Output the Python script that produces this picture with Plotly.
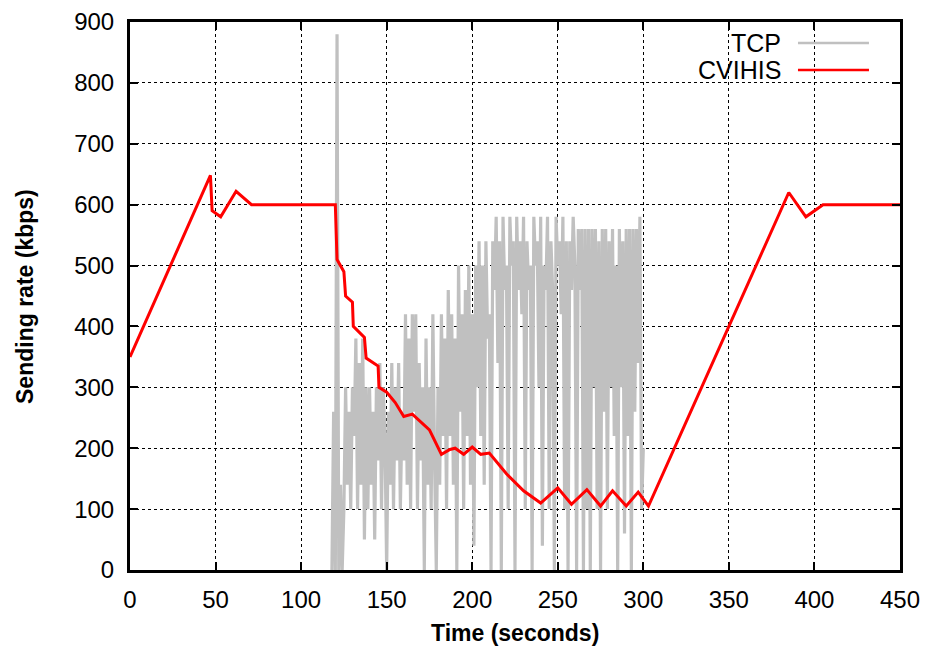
import plotly.graph_objects as go

# CVIHIS sending rate (time s, kbps)
cv_t = [0, 47, 48, 53, 62, 71, 120, 121, 125, 126, 130, 130.5, 137, 138, 145, 145.5,
        150, 155, 160, 165, 175, 182, 187, 190, 195, 200, 205, 210, 220, 230, 240,
        250, 258, 267, 275, 282, 290, 297, 303, 385, 395, 405, 450]
cv_v = [350, 648, 590, 580, 622, 600, 600, 510, 490, 450, 440, 400, 382, 348, 335, 300,
        292, 275, 252, 256, 230, 190, 198, 200, 190, 202, 190, 192, 158, 130, 110,
        135, 108, 132, 105, 130, 105, 128, 105, 620, 580, 600, 600]

# TCP sending rate (time s, kbps)
tcp_t = [118, 119, 120, 121, 122, 123, 124, 125, 126, 127, 128, 129, 130, 131, 132, 133,
         134, 135, 136, 137, 138, 139, 140, 141, 142, 143, 144, 145, 146, 147, 148, 149,
         150, 151, 152, 153, 154, 155, 156, 157, 158, 159, 160, 161, 162, 163, 164, 165,
         166, 167, 168, 169, 170, 171, 172, 173, 174, 175, 176, 177, 178, 179, 180, 181,
         182, 183, 184, 185, 186, 187, 188, 189, 190, 191, 192, 193, 194, 195, 196, 197,
         198, 199, 200, 201, 202, 203, 204, 205, 206, 207, 208, 209, 210, 211, 212, 213,
         214, 215, 216, 217, 218, 219, 220, 221, 222, 223, 224, 225, 226, 227, 228, 229,
         230, 231, 232, 233, 234, 235, 236, 237, 238, 239, 240, 241, 242, 243, 244, 245,
         246, 247, 248, 249, 250, 251, 252, 253, 254, 255, 256, 257, 258, 259, 260, 261,
         262, 263, 264, 265, 266, 267, 268, 269, 270, 271, 272, 273, 274, 275, 276, 277,
         278, 279, 280, 281, 282, 283, 284, 285, 286, 287, 288, 289, 290, 291, 292, 293,
         294, 295, 296, 297, 298, 299, 300]
tcp_v = [0, 260, 0, 880, 0, 140, 0, 100, 300, 140, 260, 100, 300, 220, 380, 100,
         340, 140, 380, 50, 300, 100, 300, 140, 260, 50, 300, 180, 340, 100, 300, 220,
         0, 260, 140, 340, 100, 300, 180, 340, 100, 260, 180, 420, 140, 380, 100, 420,
         260, 420, 100, 340, 180, 300, 0, 380, 140, 300, 100, 420, 180, 0, 300, 140,
         420, 220, 380, 100, 460, 220, 420, 140, 380, 0, 500, 260, 420, 100, 460, 220,
         500, 140, 420, 40, 500, 300, 540, 220, 500, 140, 540, 380, 420, 0, 540, 460,
         580, 340, 540, 0, 580, 460, 500, 100, 580, 500, 540, 0, 580, 460, 540, 420,
         580, 100, 540, 460, 500, 0, 580, 500, 540, 300, 580, 40, 500, 460, 580, 100,
         540, 460, 0, 580, 500, 540, 420, 580, 100, 540, 0, 540, 460, 580, 500, 0,
         560, 460, 560, 0, 560, 100, 560, 0, 560, 300, 560, 100, 540, 0, 560, 260,
         560, 100, 540, 300, 560, 220, 500, 0, 560, 300, 540, 60, 560, 220, 560, 0,
         560, 260, 560, 340, 580, 100, 200]

x_ticks = [0, 50, 100, 150, 200, 250, 300, 350, 400, 450]
y_ticks = [0, 100, 200, 300, 400, 500, 600, 700, 800, 900]

FONT = "Liberation Sans"

fig = go.Figure()
fig.add_trace(go.Scatter(x=tcp_t, y=tcp_v, mode="lines", name="TCP",
                         line=dict(color="#c0c0c0", width=3.2), showlegend=False))
fig.add_trace(go.Scatter(x=cv_t, y=cv_v, mode="lines", name="CVIHIS",
                         line=dict(color="#ff0000", width=3), showlegend=False))

axis_common = dict(
    showline=True, linecolor="black", linewidth=3, mirror="allticks",
    ticks="inside", ticklen=8, tickwidth=2, tickcolor="black",
    showgrid=True, gridcolor="black", griddash="dot", gridwidth=1,
    zeroline=False, automargin=False,
    tickfont=dict(family=FONT, size=24, color="black"),
)

fig.update_layout(
    width=929, height=650,
    margin=dict(l=130, r=29, t=22, b=80),
    paper_bgcolor="white", plot_bgcolor="white",
    xaxis=dict(range=[0, 450], tickvals=x_ticks, ticklabelstandoff=6, **axis_common),
    yaxis=dict(range=[0, 900], tickvals=y_ticks, ticklabelstandoff=8, **axis_common),
)

# axis titles
fig.add_annotation(x=0.5, y=-0.115, xref="paper", yref="paper",
                   text="<b>Time (seconds)</b>", showarrow=False,
                   xanchor="center", yanchor="middle",
                   font=dict(family=FONT, size=23, color="black"))
fig.add_annotation(x=-0.1364, y=0.5, xref="paper", yref="paper",
                   text="<b>Sending rate (kbps)</b>", showarrow=False, textangle=-90,
                   xanchor="center", yanchor="middle",
                   font=dict(family=FONT, size=23, color="black"))

# legend drawn like gnuplot: text right-aligned, sample line to the right
legend_items = [("TCP", "#c0c0c0", 0.9617), ("CVIHIS", "#ff0000", 0.9124)]
for name, color, yy in legend_items:
    fig.add_annotation(x=0.848, y=yy, xref="paper", yref="paper", text=name,
                       showarrow=False, xanchor="right", yanchor="middle",
                       font=dict(family=FONT, size=25, color="black"))
    fig.add_shape(type="line", xref="paper", yref="paper", x0=0.8675, x1=0.9597,
                  y0=yy, y1=yy, line=dict(color=color, width=2.5))

fig.write_html("out.html")
